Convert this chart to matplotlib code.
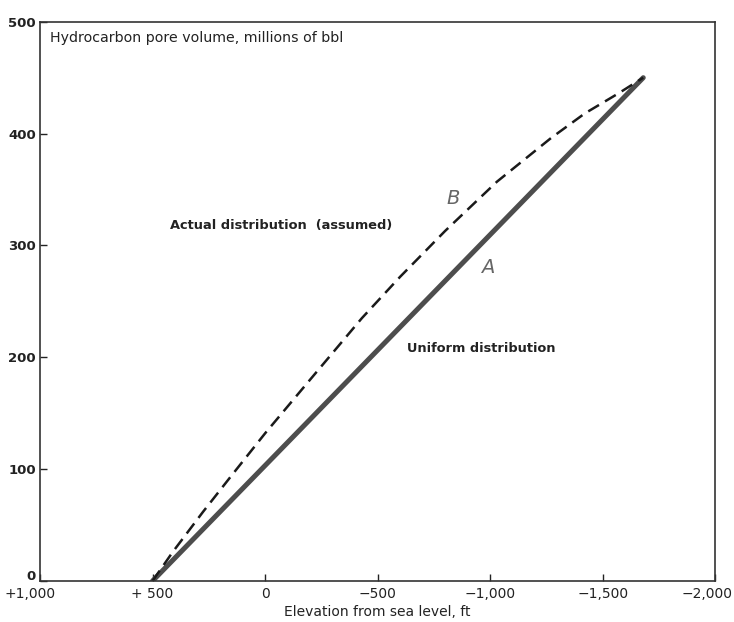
import matplotlib.pyplot as plt
from matplotlib.transforms import ScaledTranslation

plt.rcParams['font.family'] = ['DejaVu Sans']

# elevation (ft, positive above sea level) vs cumulative pore volume (MM bbl)
uniform_elev = [500, -1680]
uniform_vol = [0, 450]

actual_elev = [500, 410, 275, 150, 0, -200, -430, -600, -800, -1030, -1270, -1420, -1570, -1680]
actual_vol = [0, 26, 62, 94, 132, 180, 235, 272, 313, 357, 396, 418, 436, 450]

x_ticks = [1000, 500, 0, -500, -1000, -1500, -2000]
x_tick_labels = ['+1,000', '+ 500', '0', '\u2212500', '\u22121,000', '\u22121,500', '\u22122,000']
y_ticks = [0, 100, 200, 300, 400, 500]

ink = '#222222'

fig = plt.figure(figsize=(7.34, 6.22), dpi=100)
ax = fig.add_axes([0.0545, 0.066, 0.92, 0.899])

ax.plot(uniform_elev, uniform_vol, color='#4d4d4d', lw=3.6, solid_capstyle='round')
ax.plot(actual_elev, actual_vol, color='#1a1a1a', lw=1.8, dashes=(5, 2.8))

ax.set_xlim(1000, -2000)
ax.set_ylim(0, 500)
ax.set_xticks(x_ticks)
ax.set_xticklabels(x_tick_labels)
ax.set_yticks(y_ticks)

ax.tick_params(direction='in', length=5, width=1, colors=ink, labelsize=10, pad=4)
ax.tick_params(axis='y', labelsize=9.5, pad=3)
for lab in ax.get_yticklabels():
    lab.set_fontweight('bold')
for s in ax.spines.values():
    s.set_linewidth(1.2)
    s.set_color('#333333')

# nudge the end labels so they sit clear of the corners
xl = ax.get_xticklabels()
xl[0].set_transform(xl[0].get_transform() + ScaledTranslation(-0.10, 0, fig.dpi_scale_trans))
xl[-1].set_horizontalalignment('right')
xl[-1].set_transform(xl[-1].get_transform() + ScaledTranslation(0.17, 0, fig.dpi_scale_trans))
yl = ax.get_yticklabels()
yl[0].set_verticalalignment('bottom')
yl[0].set_transform(yl[0].get_transform() + ScaledTranslation(0, -0.02, fig.dpi_scale_trans))

ax.set_xlabel('Elevation from sea level, ft', fontsize=10, color=ink, labelpad=3)

ax.text(0.015, 0.971, 'Hydrocarbon pore volume, millions of bbl', transform=ax.transAxes,
        fontsize=10.2, color=ink, va='center', ha='left')
ax.text(0.193, 0.636, 'Actual distribution  (assumed)', transform=ax.transAxes,
        fontsize=9.4, color=ink, fontweight='bold', ha='left', va='center')
ax.text(0.544, 0.416, 'Uniform distribution', transform=ax.transAxes,
        fontsize=9.3, color=ink, fontweight='bold', ha='left', va='center')
ax.text(-836, 342, 'B', fontsize=14, color='#666666', fontstyle='italic',
        ha='center', va='center')
ax.text(-987, 280, 'A', fontsize=14, color='#666666', fontstyle='italic',
        ha='center', va='center')

fig.savefig('out.png', dpi=100)
